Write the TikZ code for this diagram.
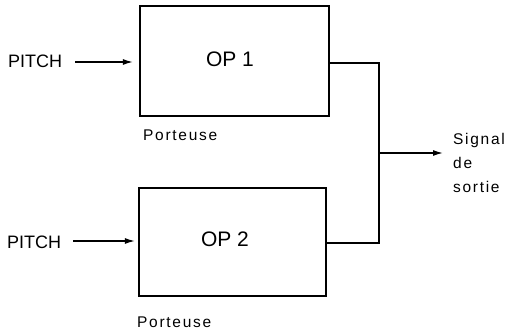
\documentclass[tikz,border=0pt]{standalone}
\usepackage{fontspec}
\setmainfont{Liberation Sans}
\usetikzlibrary{arrows.meta}
\begin{document}
\begin{tikzpicture}[x=1pt,y=-1pt,
  opbox/.style={draw,line width=2.2pt,inner sep=0pt},
  optext/.style={inner sep=0pt,font=\fontsize{21}{24}\selectfont},
  pitch/.style={inner sep=0pt,anchor=base west,font=\fontsize{18}{20}\selectfont},
  lbl/.style={inner sep=0pt,anchor=base west,font=\fontsize{15.5}{24}\selectfont\addfontfeature{LetterSpace=11}},
  wire/.style={line width=1.3pt},
  arr/.style={wire,-{Latex[length=10pt,width=6pt]}}]
\useasboundingbox (0,0) rectangle (509,332);
\node[opbox,minimum width=189pt,minimum height=110pt] (op1) at (234.5,61) {};
\node[optext] (t1) at (230,59.5) {OP 1};
\node[opbox,minimum width=187pt,minimum height=108pt] (op2) at (232.5,242) {};
\node[optext] (t2) at (225,239.5) {OP 2};
\node[pitch] (p1) at (8,67) {PITCH};
\node[pitch] (p2) at (7,248) {PITCH};
\node[lbl] (po1) at (143,140) {Porteuse};
\node[lbl] (po2) at (137,327) {Porteuse};
\node[lbl,anchor=north west,align=left] (out) at (453,133) {Signal\\de\\sortie};
\coordinate (j1) at (379,63);
\coordinate (j2) at (379,243);
\coordinate (jm) at (379,153);
\coordinate (end) at (443,153);
\draw[arr,shorten >=6pt] (75,62) coordinate (a1) -- (a1 -| op1.west);
\draw[arr,shorten >=3pt] (73,241) coordinate (a2) -- (a2 -| op2.west);
\draw[wire] (op1.east |- j1) -- (j1) -- (j2) -- (op2.east |- j2);
\draw[arr] (jm) -- (end);
\end{tikzpicture}
\end{document}
